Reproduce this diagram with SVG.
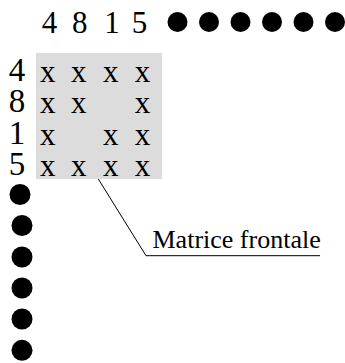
<svg xmlns="http://www.w3.org/2000/svg" width="345" height="363" viewBox="0 0 345 363">
<style>
  text { font-family: "Liberation Serif", "Times New Roman", serif; fill: #000; }
  .hd { font-size: 31px; text-anchor: middle; }
  .rh { font-size: 33px; text-anchor: middle; }
  .cell { font-size: 31px; text-anchor: middle; }
  .lbl { font-size: 26px; }
  .dot { fill: #000; }
  .lead { fill: none; stroke: #000; stroke-width: 1; }
</style>
<rect width="345" height="363" fill="#fff"/>
<g id="header-top">
  <text class="hd" x="49.5" y="33.3">4</text>
  <text class="hd" x="79.7" y="33.3">8</text>
  <text class="hd" x="112" y="33.3">1</text>
  <text class="hd" x="139.5" y="33.3">5</text>
  <circle class="dot" cx="177.5" cy="22" r="10"/>
  <circle class="dot" cx="209" cy="22" r="10"/>
  <circle class="dot" cx="240.5" cy="22" r="10"/>
  <circle class="dot" cx="272" cy="22" r="10"/>
  <circle class="dot" cx="303.5" cy="22" r="10"/>
  <circle class="dot" cx="335" cy="22" r="10"/>
</g>
<g id="header-left">
  <text class="rh" x="17" y="80.5">4</text>
  <text class="rh" x="17" y="112">8</text>
  <text class="rh" x="17" y="143.5">1</text>
  <text class="rh" x="17" y="175">5</text>
  <circle class="dot" cx="20" cy="194.5" r="10.5"/>
  <circle class="dot" cx="22" cy="225.5" r="10.5"/>
  <circle class="dot" cx="22" cy="257" r="10.5"/>
  <circle class="dot" cx="22" cy="288" r="10.5"/>
  <circle class="dot" cx="22" cy="319" r="10.5"/>
  <circle class="dot" cx="22" cy="350.3" r="10.5"/>
</g>
<g id="matrix">
  <rect x="36" y="53" width="126" height="126" fill="#dcdcdc"/>
  <text class="cell" x="47.7" y="81.5">x</text>
  <text class="cell" x="78.7" y="81.5">x</text>
  <text class="cell" x="110.8" y="81.5">x</text>
  <text class="cell" x="142.5" y="81.5">x</text>
  <text class="cell" x="47.7" y="113">x</text>
  <text class="cell" x="78.7" y="113">x</text>
  <text class="cell" x="142.5" y="113">x</text>
  <text class="cell" x="47.7" y="144.5">x</text>
  <text class="cell" x="110.8" y="144.5">x</text>
  <text class="cell" x="142.5" y="144.5">x</text>
  <text class="cell" x="47.7" y="176">x</text>
  <text class="cell" x="78.7" y="176">x</text>
  <text class="cell" x="110.8" y="176">x</text>
  <text class="cell" x="142.5" y="176">x</text>
</g>
<g id="connectors">
  <polyline class="lead" points="98.3,179 146,255.7 320,255.7"/>
</g>
<g id="label">
  <text class="lbl" x="152.5" y="248.3">Matrice frontale</text>
</g>
</svg>
